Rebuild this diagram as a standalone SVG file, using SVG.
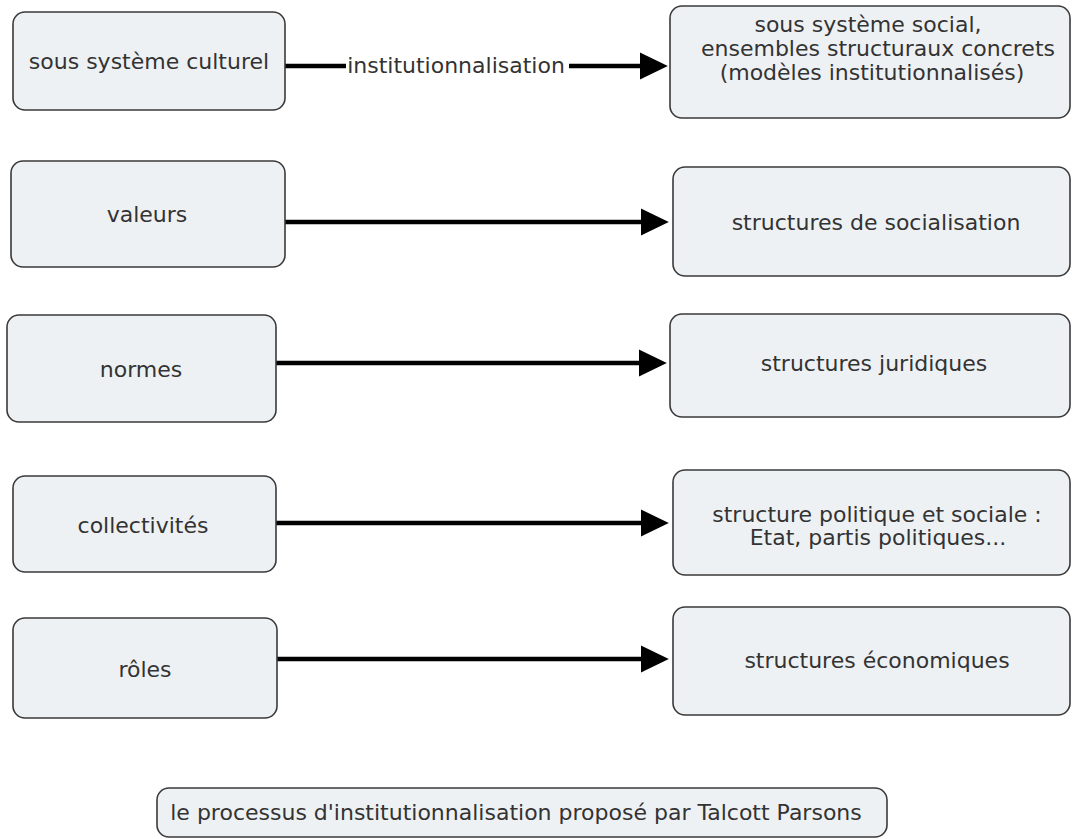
<svg xmlns="http://www.w3.org/2000/svg" width="1072" height="839" viewBox="0 0 1072 839">
<style>
.box{fill:#eef1f4;stroke:#3a3a3a;stroke-width:1.6}
.t{font-family:"DejaVu Sans","Verdana",sans-serif;font-size:22px;fill:#333;text-anchor:middle}
.c{stroke:#000;stroke-width:4.5;fill:none}
</style>
<defs>
<marker id="ah" markerUnits="userSpaceOnUse" markerWidth="28" markerHeight="28" viewBox="0 0 27 26" refX="5" refY="13" orient="auto">
<path d="M0,0 L27,13 L0,26 z" fill="#000"/>
</marker>
</defs>
<rect width="1072" height="839" fill="#fff"/>
<g id="connectors">
<line class="c" x1="285" y1="66" x2="346" y2="66"/>
<line class="c" x1="569" y1="66" x2="645" y2="66" marker-end="url(#ah)"/>
<text class="t" x="456" y="73">institutionnalisation</text>
<line class="c" x1="285" y1="222" x2="646" y2="222" marker-end="url(#ah)"/>
<line class="c" x1="276" y1="363" x2="644" y2="363" marker-end="url(#ah)"/>
<line class="c" x1="276" y1="523" x2="646" y2="523" marker-end="url(#ah)"/>
<line class="c" x1="277" y1="659" x2="646" y2="659" marker-end="url(#ah)"/>
</g>
<g id="n-culturel"><rect class="box" x="13" y="12" width="272" height="98" rx="12"/><text class="t" x="149" y="69">sous système culturel</text></g>
<g id="n-social"><rect class="box" x="670" y="6" width="400" height="112" rx="12"/>
<text class="t" x="868" y="32">sous système social,</text>
<text class="t" x="878" y="56">ensembles structuraux concrets</text>
<text class="t" x="872" y="80">(modèles institutionnalisés)</text></g>
<g id="n-valeurs"><rect class="box" x="11" y="161" width="274" height="106" rx="12"/><text class="t" x="147" y="222">valeurs</text></g>
<g id="n-socialisation"><rect class="box" x="673" y="167" width="397" height="109" rx="12"/><text class="t" x="876" y="230">structures de socialisation</text></g>
<g id="n-normes"><rect class="box" x="7" y="315" width="269" height="107" rx="12"/><text class="t" x="141" y="377">normes</text></g>
<g id="n-juridiques"><rect class="box" x="670" y="314" width="400" height="103" rx="12"/><text class="t" x="874" y="371">structures juridiques</text></g>
<g id="n-collectivites"><rect class="box" x="13" y="476" width="263" height="96" rx="12"/><text class="t" x="143" y="533">collectivités</text></g>
<g id="n-politique"><rect class="box" x="673" y="470" width="397" height="105" rx="12"/>
<text class="t" x="877" y="522">structure politique et sociale :</text>
<text class="t" x="878" y="545">Etat, partis politiques...</text></g>
<g id="n-roles"><rect class="box" x="13" y="618" width="264" height="100" rx="12"/><text class="t" x="145" y="677">rôles</text></g>
<g id="n-economiques"><rect class="box" x="673" y="607" width="397" height="108" rx="12"/><text class="t" x="877" y="668">structures économiques</text></g>
<g id="caption"><rect class="box" x="157" y="788" width="730" height="49" rx="12"/><text class="t" x="516" y="820">le processus d'institutionnalisation proposé par Talcott Parsons</text></g>
</svg>
